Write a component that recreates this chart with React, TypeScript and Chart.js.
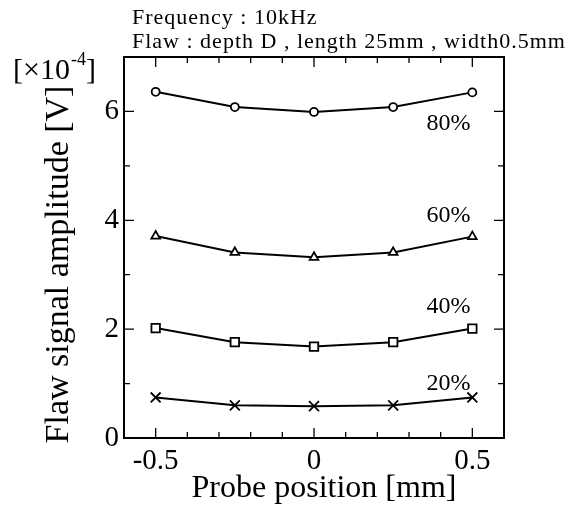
import React, { useEffect, useRef } from 'react';
import { Chart, registerables } from 'chart.js';

Chart.register(...registerables);

// ---- data ----
const positions = [-0.5, -0.25, 0, 0.25, 0.5];
const depth80 = [6.36, 6.08, 5.99, 6.08, 6.35];
const depth60 = [3.71, 3.41, 3.32, 3.41, 3.7];
const depth40 = [2.02, 1.76, 1.68, 1.76, 2.01];
const depth20 = [0.745, 0.6, 0.585, 0.6, 0.745];
const seriesNames = ['80%', '60%', '40%', '20%'];
const seriesMarkers = ['circle', 'triangle', 'rect', 'crossRot'];
const labelXs = [0.355, 0.355, 0.355, 0.355];
const labelYs = [5.66, 3.97, 2.29, 0.89];
const xTickLabels = [-0.5, 0, 0.5];
const yTickLabels = [0, 2, 4, 6];
const titleLine1 = 'Frequency : 10kHz';
const titleLine2 = 'Flaw : depth D , length 25mm , width0.5mm';
const xTitle = 'Probe position [mm]';
const yTitle = 'Flaw signal amplitude [V]';

const FAMILY = "'Liberation Serif', 'Times New Roman', serif";
const markerRadius: Record<string, number> = { circle: 4, triangle: 5, rect: 6, crossRot: 7 };

const isXMajor = (v: number) => xTickLabels.some((t) => Math.abs(t - v) < 1e-6);
const isYMajor = (v: number) => yTickLabels.some((t) => Math.abs(t - v) < 1e-6);

const decorPlugin = {
  id: 'decor',
  afterDraw(chart: any) {
    const { ctx, chartArea: a } = chart;
    const xs = chart.scales.x;
    const ys = chart.scales.y;
    ctx.save();
    ctx.strokeStyle = '#000';
    ctx.fillStyle = '#000';
    // frame
    ctx.lineWidth = 2;
    ctx.strokeRect(a.left, a.top, a.right - a.left, a.bottom - a.top);
    // inward ticks
    ctx.lineWidth = 1.3;
    ctx.beginPath();
    xs.ticks.forEach((t: any) => {
      const px = xs.getPixelForValue(t.value);
      if (px <= a.left + 1 || px >= a.right - 1) return;
      const len = isXMajor(t.value) ? 10 : 6;
      ctx.moveTo(px, a.bottom);
      ctx.lineTo(px, a.bottom - len);
      ctx.moveTo(px, a.top);
      ctx.lineTo(px, a.top + len);
    });
    ys.ticks.forEach((t: any) => {
      const py = ys.getPixelForValue(t.value);
      if (py <= a.top + 1 || py >= a.bottom - 1) return;
      const len = isYMajor(t.value) ? 10 : 6;
      ctx.moveTo(a.left, py);
      ctx.lineTo(a.left + len, py);
      ctx.moveTo(a.right, py);
      ctx.lineTo(a.right - len, py);
    });
    ctx.stroke();

    // series labels
    ctx.font = `24px ${FAMILY}`;
    ctx.textAlign = 'left';
    ctx.textBaseline = 'alphabetic';
    seriesNames.forEach((name, i) => {
      ctx.fillText(name, xs.getPixelForValue(labelXs[i]), ys.getPixelForValue(labelYs[i]));
    });

    // axis titles
    ctx.font = `32px ${FAMILY}`;
    ctx.textAlign = 'center';
    ctx.fillText(xTitle, (a.left + a.right) / 2 + 10, 497);
    ctx.save();
    ctx.font = `34px ${FAMILY}`;
    ctx.translate(68, (a.top + a.bottom) / 2 + 17);
    ctx.rotate(-Math.PI / 2);
    ctx.fillText(yTitle, 0, 0);
    ctx.restore();

    // header text
    ctx.textAlign = 'left';
    ctx.font = `22px ${FAMILY}`;
    (ctx as any).letterSpacing = '1px';
    ctx.fillText(titleLine1, 132, 24);
    ctx.fillText(titleLine2, 132, 47.5);
    (ctx as any).letterSpacing = '0px';

    // unit multiplier [x10^-4]
    let x = 13;
    ctx.font = `30px ${FAMILY}`;
    const main = '[\u00d710';
    ctx.fillText(main, x, 79);
    x += ctx.measureText(main).width;
    ctx.font = `18px ${FAMILY}`;
    const sup = '-4';
    ctx.fillText(sup, x + 1, 65);
    x += ctx.measureText(sup).width + 1;
    ctx.font = `30px ${FAMILY}`;
    ctx.fillText(']', x, 79);
    ctx.restore();
  },
};

function makeDataset(values: number[], marker: string) {
  return {
    data: positions.map((p, i) => ({ x: p, y: values[i] })),
    borderColor: '#000',
    borderWidth: 2,
    backgroundColor: '#fff',
    pointStyle: marker,
    pointRadius: markerRadius[marker],
    pointBorderWidth: 1.8,
    pointBorderColor: '#000',
    pointBackgroundColor: '#fff',
    tension: 0,
    fill: false,
  };
}

export default function App() {
  const ref = useRef<HTMLCanvasElement | null>(null);
  useEffect(() => {
    if (!ref.current) return;
    const all = [depth80, depth60, depth40, depth20];
    const chart = new Chart(ref.current, {
      type: 'line',
      data: {
        datasets: all.map((v, i) => makeDataset(v, seriesMarkers[i])) as any,
      },
      options: {
        animation: false,
        responsive: false,
        maintainAspectRatio: false,
        layout: { padding: { top: 57, right: 78, left: 0, bottom: 0 } },
        plugins: { legend: { display: false }, tooltip: { enabled: false } },
        scales: {
          x: {
            type: 'linear',
            min: -0.6,
            max: 0.6,
            grid: { display: false, drawTicks: false },
            border: { display: false },
            ticks: {
              stepSize: 0.1,
              autoSkip: false,
              maxRotation: 0,
              padding: 6,
              color: '#000',
              font: { size: 29, family: FAMILY },
              callback: (v: any) => {
                const r = Math.round(Number(v) * 10) / 10;
                return isXMajor(r) ? String(r) : '';
              },
            },
            title: { display: false },
            afterFit: (s: any) => {
              s.height = 68;
            },
          },
          y: {
            type: 'linear',
            min: 0,
            max: 7,
            grid: { display: false, drawTicks: false },
            border: { display: false },
            ticks: {
              stepSize: 1,
              autoSkip: false,
              padding: 5,
              color: '#000',
              font: { size: 29, family: FAMILY },
              callback: (v: any) => {
                const r = Math.round(Number(v));
                return isYMajor(r) ? String(r) : '';
              },
            },
            title: { display: false },
            afterFit: (s: any) => {
              s.width = 124;
            },
          },
        },
      } as any,
      plugins: [decorPlugin],
    });
    return () => chart.destroy();
  }, []);

  return (
    <div style={{ position: 'absolute', left: 0, top: 0, width: 582, height: 506, background: '#fff' }}>
      <canvas ref={ref} width={582} height={506} style={{ display: 'block', width: 582, height: 506 }} />
    </div>
  );
}
